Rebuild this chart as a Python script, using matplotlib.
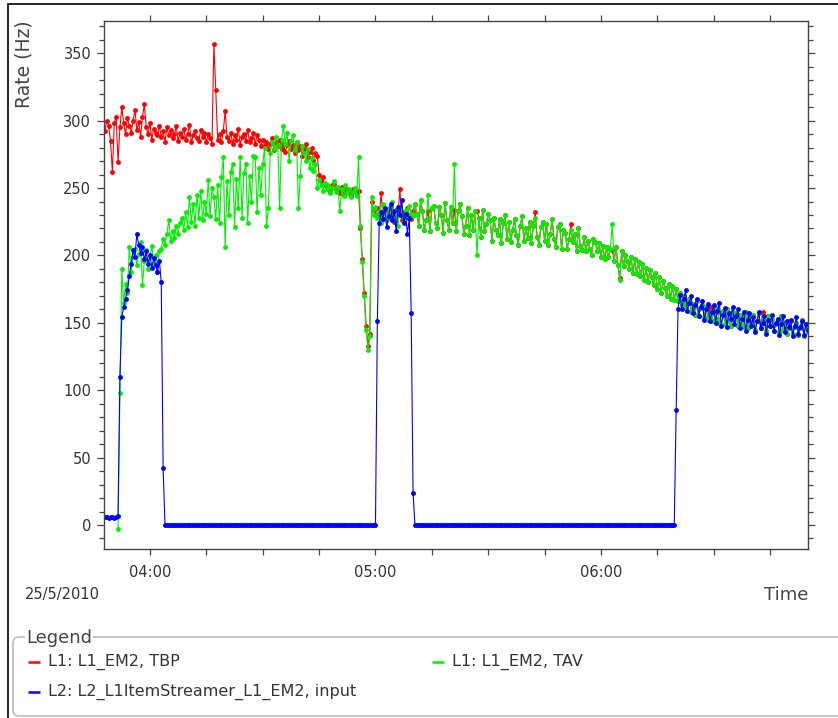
import datetime as dt
import matplotlib
matplotlib.use("Agg")
import matplotlib.pyplot as plt
import matplotlib.dates as mdates
from matplotlib.ticker import MultipleLocator
from matplotlib.patches import FancyBboxPatch, Rectangle
from matplotlib.lines import Line2D
from matplotlib.transforms import IdentityTransform

nan = float("nan")

# ---------------- data (30 s samples from 03:48:00, 25/5/2010) ----------------
sample_start = dt.datetime(2010, 5, 25, 3, 48, 0)
sample_step_s = 30

tbp = [  # L1: L1_EM2, TBP  (red)
    292, 300, 296, 285, 262, 298, 303, 269, 295, 310,
    298, 290, 302, 296, 291, 300, 308, 293, 299, 288,
    303, 312, 295, 290, 298, 286, 294, 291, 289, 296,
    288, 292, 284, 295, 289, 293, 287, 290, 296, 285,
    291, 288, 294, 286, 290, 297, 284, 289, 292, 287,
    285, 293, 288, 291, 284, 290, 287, 283, 357, 323,
    286, 290, 284, 292, 307, 288, 285, 291, 283, 289,
    286, 294, 282, 288, 290, 285, 293, 284, 287, 291,
    283, 289, 286, 281, 286, 281, 284, 279, 283, 287,
    278, 284, 281, 286, 279, 283, 277, 282, 285, 279,
    282, 276, 284, 278, 281, 274, 279, 283, 273, 277,
    280, 271, 276, 274, 260, 255, 258, 252, 250, 249,
    247, 252, 253, 249, 248, 246, 251, 245, 250, 248,
    247, 245, 249, 248, 246, 248, 220, 197, 172, 148,
    133, 142, 240,
    233, 231, 235, 229, 246, 227, 234, 232, 228, 236,
    230, 225, 234, 231, 249, 226, 232, 229, 235, 230,
    227, 233,
    238, 231, 222, 241, 233, 219, 226, 233, 218, 235,
    237, 224, 220, 236, 230, 217, 239, 226, 219, 236,
    224, 234, 218, 233, 238, 229, 216, 222, 235, 215,
    230, 219, 233, 233, 228, 214, 234, 218, 223, 231,
    226, 211, 228, 219, 215, 227, 209, 224, 230, 212,
    225, 210, 219, 227, 215, 208, 222, 229, 211, 220,
    213, 225, 209, 222, 232, 214, 208, 221, 225, 211,
    223, 208, 216, 227, 212, 206, 221, 223, 205, 219,
    217, 205, 212, 223, 210, 216, 203, 220, 207, 204,
    214, 203, 211, 205, 200, 212, 210, 203, 209, 199,
    207, 197, 206, 199, 205, 204, 196, 206, 193, 183,
    203, 192, 200, 196, 190, 199, 187, 197, 186, 195,
    185, 194, 182, 191, 180, 189, 184, 178, 187, 175,
    184, 172, 181, 176, 170, 179, 168, 177, 167, 175,
    166, 172, 163, 170, 160, 165, 168, 158, 164, 156,
    166, 155, 161, 163, 154, 162, 152, 162, 151, 159,
    153, 161, 150, 157, 159, 149, 160, 151, 148, 158,
    152, 157, 148, 156, 150, 147, 158, 146, 155, 149,
    156, 145, 151, 157, 146, 158, 150, 144, 155, 148,
    153, 144, 149, 152, 143, 155, 145, 150, 142, 146,
    151, 142, 147, 150, 141, 146, 152, 140, 149, 143,
]

tav = [  # L1: L1_EM2, TAV  (green)
    nan, nan, nan, nan, nan, nan, nan, -3, 98, 190,
    165, 179, 172, 206, 188, 199, 205, 193, 201, 210,
    178, 196, 204, 190, 199, 207, 194, 200, 188, 203,
    205, 212, 208, 216, 226, 211, 218, 213, 222, 216,
    224, 228, 219, 232, 221, 243, 225, 238, 222, 245,
    228, 248, 226, 240, 231, 256, 229, 250, 243, 227,
    252, 224, 258, 273, 206, 255, 230, 262, 268, 221,
    257, 235, 273, 228, 261, 268, 224, 259, 240, 274,
    273, 232, 265, 245, 268, 280, 222, 235, 276, 284,
    279, 288, 282, 235, 286, 296, 283, 291, 270, 285,
    289, 278, 284, 235, 259, 281, 276, 270, 279, 265,
    272, 263, 268, 250, 256, 252, 248, 254, 249, 252,
    246, 250, 255, 247, 251, 233, 249, 244, 252, 246,
    249, 243, 247, 250, 244, 273, 222, 195, 170, 145,
    130, 140, 243,
    230, 236, 228, 233, 224, 238, 231, 226, 235, 229,
    240, 227, 233, 222, 236, 230, 225, 234, 228, 237,
    231, 229,
    238, 231, 222, 241, 233, 219, 226, 245, 218, 235,
    237, 224, 220, 236, 230, 217, 239, 226, 219, 236,
    224, 268, 218, 233, 238, 229, 216, 222, 235, 215,
    230, 219, 233, 200, 228, 214, 234, 218, 223, 231,
    226, 211, 228, 219, 215, 227, 209, 224, 230, 212,
    225, 210, 219, 227, 215, 208, 222, 229, 211, 220,
    213, 225, 209, 222, 228, 214, 208, 221, 225, 211,
    223, 208, 216, 227, 212, 206, 221, 223, 205, 219,
    217, 205, 212, 219, 210, 216, 203, 220, 207, 204,
    214, 203, 211, 205, 200, 212, 210, 203, 209, 199,
    207, 197, 206, 199, 205, 223, 196, 206, 193, 182,
    203, 192, 200, 196, 190, 199, 187, 197, 186, 195,
    185, 194, 182, 191, 180, 189, 184, 178, 187, 175,
    184, 172, 181, 176, 170, 179, 168, 177, 167, 175,
    166, 172, 163, 170, 160, 165, 168, 158, 164, 156,
    166, 155, 161, 163, 154, 162, 152, 158, 151, 159,
    153, 161, 150, 157, 159, 149, 160, 151, 148, 158,
    152, 157, 148, 156, 150, 147, 158, 146, 155, 149,
    156, 145, 151, 157, 146, 154, 150, 144, 155, 148,
    153, 144, 149, 152, 143, 155, 145, 150, 142, 146,
    151, 142, 147, 150, 141, 146, 152, 140, 149, 143,
]

l2_input = [  # L2: L2_L1ItemStreamer_L1_EM2, input  (blue)
    6, 6, 5, 6, 6, 5, 6, 7, 110, 154,
    162, 168, 174, 185, 194, 204, 199, 216, 208, 202,
    206, 197, 203, 194, 200, 191, 198, 193, 188, 196,
    180, 42, 0, 0, 0, 0, 0, 0, 0, 0,
    0, 0, 0, 0, 0, 0, 0, 0, 0, 0,
    0, 0, 0, 0, 0, 0, 0, 0, 0, 0,
    0, 0, 0, 0, 0, 0, 0, 0, 0, 0,
    0, 0, 0, 0, 0, 0, 0, 0, 0, 0,
    0, 0, 0, 0, 0, 0, 0, 0, 0, 0,
    0, 0, 0, 0, 0, 0, 0, 0, 0, 0,
    0, 0, 0, 0, 0, 0, 0, 0, 0, 0,
    0, 0, 0, 0, 0, 0, 0, 0, 0, 0,
    0, 0, 0, 0, 0, 0, 0, 0, 0, 0,
    0, 0, 0, 0, 0, 0, 0, 0, 0, 0,
    0, 0, 0, 0, 0, 151, 224, 232, 227, 235,
    221, 229, 238, 226, 233, 218, 236, 230, 241, 224,
    231, 216, 228, 157, 24, 0, 0, 0, 0, 0,
    0, 0, 0, 0, 0, 0, 0, 0, 0, 0,
    0, 0, 0, 0, 0, 0, 0, 0, 0, 0,
    0, 0, 0, 0, 0, 0, 0, 0, 0, 0,
    0, 0, 0, 0, 0, 0, 0, 0, 0, 0,
    0, 0, 0, 0, 0, 0, 0, 0, 0, 0,
    0, 0, 0, 0, 0, 0, 0, 0, 0, 0,
    0, 0, 0, 0, 0, 0, 0, 0, 0, 0,
    0, 0, 0, 0, 0, 0, 0, 0, 0, 0,
    0, 0, 0, 0, 0, 0, 0, 0, 0, 0,
    0, 0, 0, 0, 0, 0, 0, 0, 0, 0,
    0, 0, 0, 0, 0, 0, 0, 0, 0, 0,
    0, 0, 0, 0, 0, 0, 0, 0, 0, 0,
    0, 0, 0, 0, 0, 0, 0, 0, 0, 0,
    0, 0, 0, 0, 85, 160, 171, 160, 168, 174,
    159, 165, 170, 157, 163,
    168, 155, 162, 166, 152, 160, 164, 151, 158, 163,
    150, 159, 165, 148, 156, 161, 147, 157, 153, 162,
    149, 155, 160, 146, 153, 158, 144, 152, 157, 148,
    154, 143, 151, 158, 146, 150, 155, 142, 152, 148,
    156, 144, 150, 153, 141, 149, 155, 143, 151, 147,
    152, 140, 148, 154, 142, 147, 151, 141, 149, 145,
]

series_labels = ["L1: L1_EM2, TBP", "L1: L1_EM2, TAV",
                 "L2: L2_L1ItemStreamer_L1_EM2, input"]
series_colors = ["#ff0000", "#00f000", "#0000ff"]

y_ticks = [0, 50, 100, 150, 200, 250, 300, 350]
date_label = "25/5/2010"

n = len(tbp)
assert len(tav) == n and len(l2_input) == n, (len(tbp), len(tav), len(l2_input))
times = [sample_start + dt.timedelta(seconds=sample_step_s * k) for k in range(n)]

# ---------------- figure ----------------
W, H = 838, 718
fig = plt.figure(figsize=(W / 100, H / 100), dpi=100)
fig.patch.set_facecolor("white")
px = IdentityTransform()

ax = fig.add_axes([104 / W, 1 - 549 / H, (808 - 104) / W, (549 - 20.5) / H])

for vals, col in zip([tbp, tav, l2_input], series_colors):
    ax.plot(times, vals, color=col, lw=0.8)
    ax.plot(times, vals, color=col, lw=0, marker="o", ms=3.5, mew=0)

ax.set_xlim(mdates.date2num(dt.datetime(2010, 5, 25, 3, 47, 46)),
            mdates.date2num(dt.datetime(2010, 5, 25, 6, 55, 5)))
ax.set_ylim(-17.8, 374.3)

ax.xaxis.set_major_locator(mdates.HourLocator())
ax.xaxis.set_major_formatter(mdates.DateFormatter("%H:%M"))
ax.xaxis.set_minor_locator(mdates.MinuteLocator(byminute=[15, 30, 45]))
ax.set_yticks(y_ticks)
ax.yaxis.set_minor_locator(MultipleLocator(10))

spine_col = "#444444"
text_col = "#333333"
for s in ax.spines.values():
    s.set_color(spine_col)
    s.set_linewidth(1.0)

ax.tick_params(axis="both", which="both", direction="out", top=True, right=True,
               colors=spine_col, labelcolor=text_col, labelsize=10.5, width=0.9)
ax.tick_params(axis="x", which="both", length=4.3, pad=7.5)
ax.tick_params(axis="y", which="major", length=5.2, pad=4.0)
ax.tick_params(axis="y", which="minor", length=3.4)

# axis titles
fig.text(24, H - 20, "Rate (Hz)", transform=px, rotation=90, ha="center", va="top",
         fontsize=13.5, color="#444444")
fig.text(808, H - 595, "Time", transform=px, ha="right", va="center",
         fontsize=13, color="#444444")
fig.text(25, H - 595, date_label, transform=px, ha="left", va="center",
         fontsize=10.5, color=text_col)

# outer frame
fig.add_artist(Rectangle((8, -10), 900, H - 4 + 10, transform=px, fill=False,
                         edgecolor="black", lw=1.2))

# legend panel
fig.add_artist(FancyBboxPatch((13, 2), 900, 79, transform=px,
                              boxstyle="round,pad=0,rounding_size=6",
                              fill=False, edgecolor="#c0c0c0", lw=1.3))
fig.text(26, H - 638, "Legend", transform=px, ha="left", va="center",
         fontsize=13, color="#444444",
         bbox=dict(facecolor="white", edgecolor="none", pad=1.0))

entries = [(28, 662, 0), (432, 662, 1), (28, 692, 2)]
for x0, yy, k in entries:
    fig.add_artist(Line2D([x0, x0 + 12], [H - yy, H - yy], transform=px,
                          color=series_colors[k], lw=1.8, solid_capstyle="butt"))
    fig.text(x0 + 20, H - yy, series_labels[k], transform=px, ha="left",
             va="center", fontsize=11.5, color=text_col)

fig.savefig("out.png", dpi=100, facecolor="white")
